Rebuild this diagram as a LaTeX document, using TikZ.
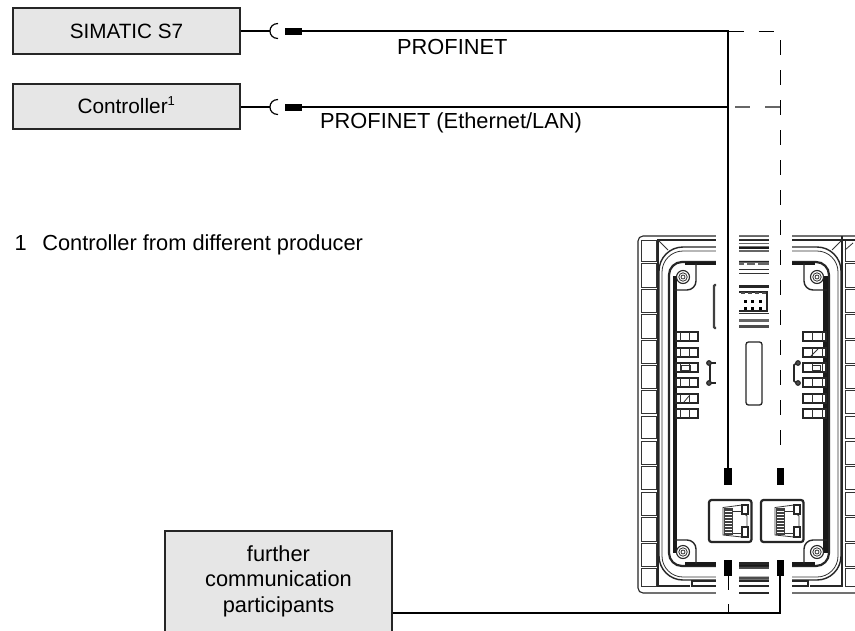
\documentclass[tikz,border=0pt]{standalone}
\usepackage{fontspec}
\setmainfont{Liberation Sans}
\definecolor{boxgray}{HTML}{E6E6E6}
\tikzset{
 devbox/.style={draw=black!85,line width=1.3pt,fill=boxgray,inner sep=0pt},
 lab/.style={inner sep=0pt,font=\fontsize{21.8}{25.5}\selectfont},
 cable/.style={line width=1.6pt,black},
 dashline/.style={line width=1pt,dash pattern=on 15pt off 15pt},
 bar/.style={fill=black,draw=none},
 dev/.style={line width=1.1pt,black!85},
 devthin/.style={line width=.8pt,black!80},
 devthick/.style={line width=2.2pt,black!85},
}
\begin{document}
\begin{tikzpicture}[x=1pt,y=-1pt]
\useasboundingbox (0,0) rectangle (855,630);
\clip (0,0) rectangle (855,630);
\fill[white] (0,0) rectangle (855,630);
\begin{scope}
\clip (630,225) rectangle (855,630);
% outer frame
\draw[dev,rounded corners=5pt] (900,593) -- (638,593) -- (638,236) -- (900,236);
% tiles
\foreach \a/\b in {240/261,263/287,289/312,314/338,340/363,365/388,390/413,416/438,441/464,466/489,492/515,517/541,543/566,568/586}{
 \draw[devthin] (641,\a) rectangle (656,\b);
 \draw[devthin] (845,\a) rectangle (870,\b);
}
\draw[devthin] (845,250) -- (853,243);
% bezel
\draw[dev] (690,586) -- (658,586) -- (658,240) -- (900,240);
\draw[dev] (692,586) rectangle (808,581);
\draw[dev] (810,586) -- (842,586) -- (842,236);
\draw[devthin] (658,240) -- (668,250) (842,240) -- (832,250);
\draw[dev,line width=1.4pt,rounded corners=24pt] (659,580) rectangle (841,247);
\draw[devthin,rounded corners=21pt] (662,577) rectangle (838,251);
% inner cavity
\draw[devthick,rounded corners=13pt] (669,566) rectangle (829,262);
\draw[line width=4.5pt,black!90] (675,276) -- (675,553) (825.5,276) -- (825.5,553);
\draw[line width=3.5pt,black!90] (685,564) -- (815,564);
\draw[line width=3pt,black!90] (685,263) -- (815,263);
% screws
\foreach \x/\y in {683/277,817/277,683/552,817/552}{
 \draw[dev] (\x,\y) circle[radius=6.5];
 \draw[devthin] (\x,\y) circle[radius=4.2];
 \draw[devthin] (\x,\y) circle[radius=2];
}
\draw[line width=1.4pt,black!85,rounded corners=9pt] (674,290) -- (696,290) -- (696,263);
\draw[line width=1.4pt,black!85,rounded corners=9pt] (827,290) -- (804,290) -- (804,263);
\draw[line width=1.4pt,black!85,rounded corners=9pt] (674,540) -- (696,540) -- (696,564);
\draw[line width=1.4pt,black!85,rounded corners=9pt] (827,540) -- (804,540) -- (804,564);
% terminals
\foreach \a in {332,348,363,378,394,409}{
 \draw[dev,fill=white] (676,\a) rectangle (698,\a+9);
 \draw[devthin] (689,\a) -- (689,\a+9) (680,\a) -- (680,\a+9);
 \draw[dev,fill=white] (803,\a) rectangle (826,\a+9);
 \draw[devthin] (812,\a) -- (812,\a+9) (822,\a) -- (822,\a+9);
}
\draw[devthin] (681,370) rectangle (690,365);
\draw[devthin] (812,370) rectangle (820,365);
\draw[devthin] (689,396) -- (684,402);
\draw[devthin] (818,349) -- (811,356);
% clips
\draw[dev,line width=1.6pt] (716,363) -- (710,363) -- (710,383) -- (716,383);
\draw[dev,fill=black!70] (709,363) circle[radius=2.3];
\draw[dev,fill=black!70] (709,383) circle[radius=2.3];
\draw[dev,line width=1.6pt] (798,362) -- (794,365) -- (794,381) -- (798,384);
\draw[dev,fill=black!70] (798,363) circle[radius=2.3];
\draw[dev,fill=black!70] (798,383) circle[radius=2.3];
% white gaps over the device
\fill[white] (716,230) rectangle (739,330);
\fill[white] (769,230) rectangle (792,330);
\fill[white] (716,560) rectangle (739,600);
\fill[white] (769,560) rectangle (792,600);
% left slot
\draw[line width=2.2pt,black!75,rounded corners=1pt] (716,285) -- (714,285) -- (714,328) -- (716,328);
% top connector
\fill[black!85] (739,285) rectangle (769,288);
\draw[dev] (739,292) -- (767,292) -- (767,311) -- (739,311);
\foreach \yy in {300,307}\foreach \xx in {744,751,759}{\fill[black] (\xx,\yy) rectangle +(2.6,2.6);}
\foreach \xx in {741,748,755,762}{\fill[black!70] (\xx,292) rectangle +(4,1.5);}
\draw[devthin] (739,313) -- (769,313);
\fill[black!60] (739,319) rectangle (769,321.5);
\fill[black!70] (739,325) rectangle (769,328);
\fill[black!60] (739,235.5) rectangle (769,237);
\draw[devthin] (739,239.5) -- (769,239.5);
\fill[black!60] (739,242.5) rectangle (769,244);
\fill[black!90] (739,246.5) rectangle (769,248.5);
\fill[black!60] (739,250) rectangle (769,252);
\fill[black!60] (739,261.5) rectangle (769,265);
\fill[white] (744,263) rectangle +(3,1.5);
\fill[white] (755,263) rectangle +(3,1.5);
\draw[devthin] (739,269) -- (769,269);
\draw[devthin] (739,273) -- (769,273);
% centre slot
\draw[dev,line width=1.3pt,rounded corners=2.5pt] (746,342) rectangle (762,405);
% RJ45
\foreach \x in {709,761}{
 \begin{scope}[xshift=\x pt]
 \draw[line width=2.2pt,black!85,rounded corners=2.5pt] (0,500) rectangle (42.5,542);
 \draw[devthin] (14,507.5) -- (33,505) -- (33,512) -- (38,516) -- (38,527) -- (33,531) -- (33,537) -- (14,535) -- cycle;
 \fill[black!75] (15,508) rectangle (24,535);
 \foreach \k in {0,...,7}{\fill[white] (15.5,511+\k*3) rectangle (23,512+\k*3);}
 \draw[dev,fill=white] (33,505) rectangle (39,514);
 \draw[dev,fill=white] (33,527) rectangle (39,537);
 \draw[devthin] (24,511) -- (33,511) (24,533) -- (33,533);
 \end{scope}
}
\fill[black!85] (739,562) rectangle (769,565);
\fill[black!70] (739,567) rectangle (769,569);
\fill[black!70] (739,577) rectangle (769,579);
\draw[dev] (739,581) -- (769,581);
\draw[dev] (739,586) -- (769,586);
\draw[dev] (739,593) -- (769,593);
\end{scope}
% boxes
\node[devbox,minimum width=227pt,minimum height=46pt,font=\fontsize{20.7}{24}\selectfont] (s7) at (126.5,31) {SIMATIC S7};
\node[devbox,minimum width=227pt,minimum height=45pt,font=\fontsize{20.8}{24}\selectfont] (ctl) at (126.5,106.5) {\raisebox{3pt}{Controller\textsuperscript{\fontsize{13}{13}\selectfont 1}}};
\node[devbox,minimum width=227pt,minimum height=100.5pt,align=center,font=\fontsize{21.8}{25.5}\selectfont] (fur) at (278.5,581.25) {further\\communication\\participants};
% plugs
\foreach \n/\y in {a/31,b/107}{
 \coordinate (arc\n) at (270,\y);
 \coordinate (plugend\n) at (302,\y);
 \coordinate (bend\n) at (728,\y);
 \fill[bar] (285,\y-3.5) rectangle (302,\y+3.5);
 \draw[line width=1.2pt,black] (278,\y-7.5) .. controls (267.3,\y-7.5) and (267.3,\y+7.5) .. (278,\y+7.5);
}
\draw[line width=1.2pt,black] (s7.east) -- (arca);
\draw[line width=1.2pt,black] (ctl.east |- arcb) -- (arcb);
% labels
\node[lab,anchor=west] (l1) at (397,47) {PROFINET};
\node[lab,anchor=west] (l2) at (320,122.5) {PROFINET (Ethernet/LAN)};
\node[lab,anchor=west] (note) at (14.5,244.5) {1\hspace{15.5pt}Controller from different producer};
% cables
\coordinate (t1) at (728,468);
\fill[bar] (724,468) rectangle (731.5,485);
\fill[bar] (777,468) rectangle (784,485);
\fill[bar] (724,560) rectangle (731.5,576);
\fill[bar] (777,560) rectangle (784,576);
\draw[cable,line width=1.3pt] (plugenda) -- (benda) -- (t1);
\draw[cable] (plugendb) -- (bendb);
\draw[dashline] (benda) ++(0.7,0) -- ++(15,0) ++(15,0) -- ++(15,0);
\draw[dashline,black!60,line width=1.4pt] (728,107) ++(7,0) -- ++(15,0) ++(15,0) -- ++(15,0);
\draw[line width=1pt,dash pattern=on 15pt off 15pt] (780,40) -- (780,448);
\draw[line width=1pt] (728,576) -- (728,590);
\draw[line width=1pt] (728,604) -- (728,613);
\draw[cable] (fur.east |- 0,613) -- (780,613) -- (780,576);
\end{tikzpicture}
\end{document}
